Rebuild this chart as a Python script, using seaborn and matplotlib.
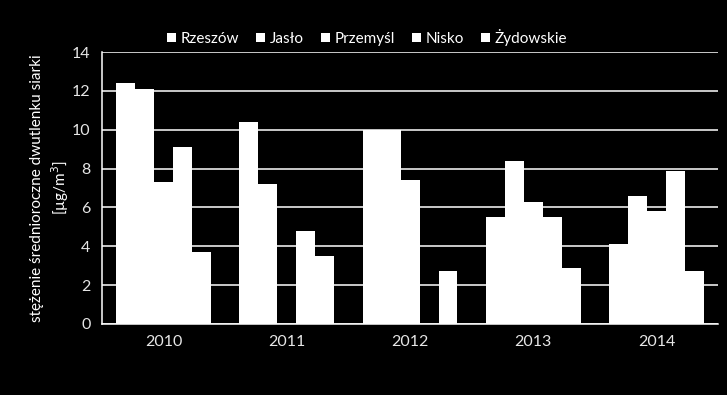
import numpy as np
import pandas as pd
import seaborn as sns
import matplotlib.pyplot as plt
from matplotlib.patches import Patch

years = ["2010", "2011", "2012", "2013", "2014"]
cities = ["Rzeszów", "Jasło", "Przemyśl", "Nisko", "Żydowskie"]
rzeszow = [12.4, 10.4, 10.0, 5.5, 4.1]
jaslo = [12.1, 7.2, 10.0, 8.4, 6.6]
przemysl = [7.3, np.nan, 7.4, 6.3, 5.8]
nisko = [9.1, 4.8, np.nan, 5.5, 7.9]
zydowskie = [3.7, 3.5, 2.7, 2.9, 2.7]
y_ticks = [0, 2, 4, 6, 8, 10, 12, 14]

series = [rzeszow, jaslo, przemysl, nisko, zydowskie]
rows = []
for city, vals in zip(cities, series):
    for year, v in zip(years, vals):
        rows.append({"rok": year, "miasto": city, "wartosc": v})
df = pd.DataFrame(rows).dropna()

sns.set_style("dark")
plt.rcParams["font.family"] = ["Lato", "DejaVu Sans"]

fig = plt.figure(figsize=(7.27, 3.95), dpi=100, facecolor="black")
ax = fig.add_axes([0.140, 0.180, 0.848, 0.688])
ax.set_facecolor("black")

sns.barplot(
    data=df, x="rok", y="wartosc", hue="miasto",
    order=years, hue_order=cities,
    palette=["white"] * 5, width=0.77, gap=0,
    linewidth=0, edgecolor="none",
    errorbar=None, legend=False, ax=ax,
)

ax.set_ylim(0, 14)
ax.set_yticks(y_ticks)
ax.set_xlim(-0.5, 4.5)
ax.yaxis.grid(True, color="white", linewidth=1.1)
ax.xaxis.grid(False)
ax.set_axisbelow(True)

for s in ["top", "right"]:
    ax.spines[s].set_visible(False)
for s in ["left", "bottom"]:
    ax.spines[s].set_visible(True)
    ax.spines[s].set_color("white")
    ax.spines[s].set_linewidth(1.1)

ax.tick_params(axis="both", colors="#e6e6e6", labelsize=11.5, length=0, pad=8)
ax.set_xlabel("")
ax.set_ylabel("stężenie średnioroczne dwutlenku siarki\n[µg/m$^3$]",
              color="white", fontsize=11, linespacing=1.3, labelpad=1)

handles = [Patch(facecolor="white", edgecolor="none") for _ in cities]
leg = fig.legend(handles, cities, loc="center", bbox_to_anchor=(0.505, 0.905),
                 ncol=5, frameon=False, fontsize=11, handlelength=0.6,
                 handleheight=0.6, handletextpad=0.3, columnspacing=1.1)
for t in leg.get_texts():
    t.set_color("white")

fig.savefig("out.png", dpi=100, facecolor="black")
